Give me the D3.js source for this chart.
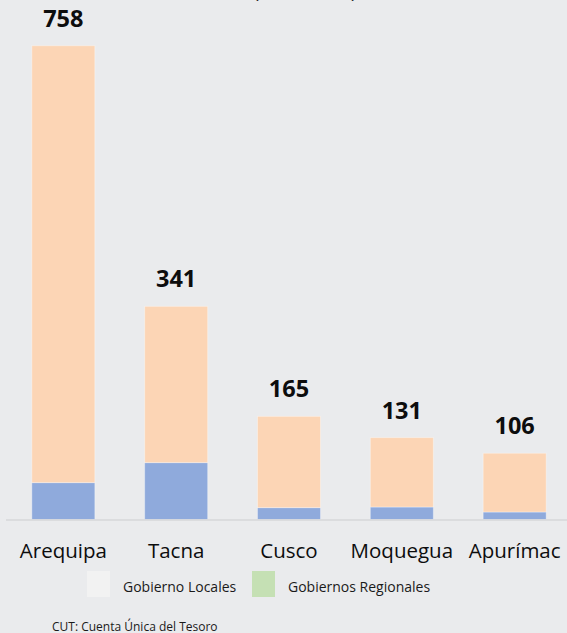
<!DOCTYPE html>
<html>
<head>
<meta charset="utf-8">
<script src="https://cdn.jsdelivr.net/npm/d3@7"></script>
<style>
  html, body { margin: 0; padding: 0; background: #eaebed; }
  svg { display: block; }
  text { font-family: "Open Sans", "Noto Sans", sans-serif; }
</style>
</head>
<body>
<svg id="chart" width="567" height="633"></svg>
<script>
// Regions and balances (S/ millones)
const regions = ["Arequipa", "Tacna", "Cusco", "Moquegua", "Apurímac"];
const totals = [758, 341, 165, 131, 106];
const lowerSegment = [59, 91, 19, 20, 12];   // blue portion
const upperSegment = [699, 250, 146, 111, 94]; // peach portion
const legendLabels = ["Gobierno Locales", "Gobiernos Regionales"];
const legendColors = ["#f2f2f2", "#c5e0b4"];

const svg = d3.select("#chart");
const W = 567, H = 633;

svg.append("rect").attr("width", W).attr("height", H).attr("fill", "#eaebed");

const x = d3.scaleBand().domain(regions).range([7, 571])
  .paddingInner(0.4415).paddingOuter(0.22);
const y = d3.scaleLinear().domain([0, 758]).range([519.5, 45.7]);

const rows = regions.map((r, i) => ({
  region: r, lower: lowerSegment[i], upper: upperSegment[i], total: totals[i]
}));
const stack = d3.stack().keys(["lower", "upper"])(rows);
const colors = { lower: "#8faadc", upper: "#fcd5b5" };

// Title (runs off the top edge of the frame)
svg.append("text")
  .attr("x", 305).attr("y", -2.5)
  .attr("text-anchor", "middle")
  .attr("font-size", 18).attr("fill", "#1a1a1a")
  .text("(S/ millones)");

// Stacked bars
svg.append("g").selectAll("g").data(stack).join("g")
  .attr("fill", d => colors[d.key])
  .selectAll("rect").data(d => d).join("rect")
  .attr("x", d => x(d.data.region))
  .attr("width", x.bandwidth())
  .attr("y", d => y(d[1]))
  .attr("height", d => y(d[0]) - y(d[1]))
  .attr("stroke", "rgba(255,255,255,0.35)")
  .attr("stroke-width", 1);

// Baseline
svg.append("line")
  .attr("x1", 6).attr("x2", 567)
  .attr("y1", 520).attr("y2", 520)
  .attr("stroke", "#d6d7d9").attr("stroke-width", 1.5);

// Totals above bars
svg.append("g").selectAll("text").data(rows).join("text")
  .attr("x", d => x(d.region) + x.bandwidth() / 2)
  .attr("y", d => y(d.total) - 19)
  .attr("text-anchor", "middle")
  .attr("font-size", 23.5).attr("font-weight", 700).attr("fill", "#0d0d0d")
  .text(d => d.total);

// Category axis labels
const xAxis = d3.axisBottom(x).tickSize(0).tickPadding(0);
const ax = svg.append("g").attr("transform", "translate(0,557.5)").call(xAxis);
ax.select(".domain").remove();
ax.selectAll("text")
  .attr("dy", 0).attr("y", 0)
  .attr("font-size", 20.5).attr("fill", "#0d0d0d")
  .attr("font-family", "'Open Sans', 'Noto Sans', sans-serif");

// Legend
const legendX = [87, 252];
const lg = svg.append("g").selectAll("g").data(legendLabels).join("g")
  .attr("transform", (d, i) => `translate(${legendX[i]},571)`);
lg.append("rect").attr("width", 23).attr("height", 26)
  .attr("fill", (d, i) => legendColors[i]);
lg.append("text").attr("x", 36).attr("y", 20.5)
  .attr("font-size", 14).attr("fill", "#1a1a1a")
  .text(d => d);

// Source note
svg.append("text")
  .attr("x", 52).attr("y", 630.5)
  .attr("font-size", 12).attr("fill", "#1a1a1a")
  .text("CUT: Cuenta Única del Tesoro");
</script>
</body>
</html>
